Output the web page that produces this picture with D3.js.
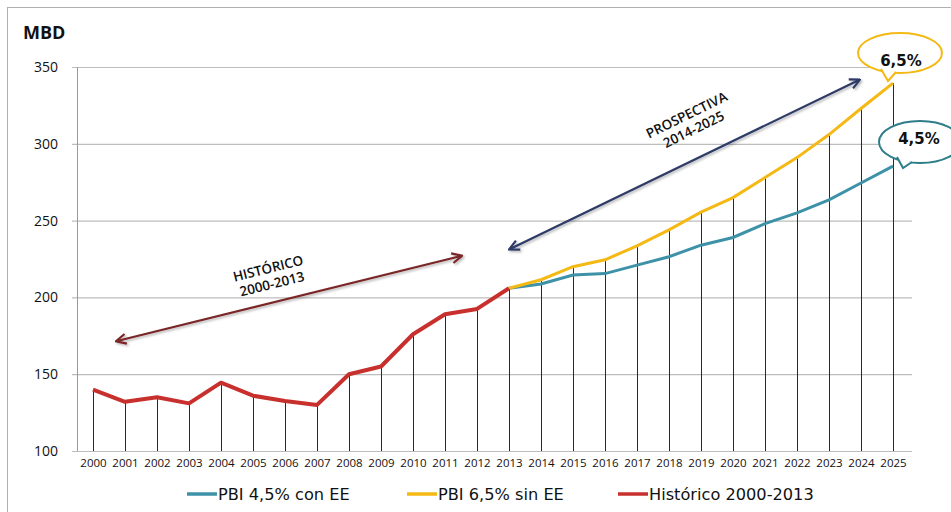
<!DOCTYPE html>
<html><head><meta charset="utf-8">
<script src="https://cdn.jsdelivr.net/npm/d3@7"></script>
<style>body{margin:0;background:#fff}svg{display:block;font-family:"Open Sans",sans-serif}</style>
</head><body>
<svg id="c" width="951" height="512"></svg>
<script>
const years = d3.range(2000, 2026).map(String);
const histYears = ["2000","2001","2002","2003","2004","2005","2006","2007","2008","2009","2010","2011","2012","2013"];
const histValues = [140,132,135,131,144.5,136,132.5,130,150,155,176,189,192.5,206];
const projYears = ["2013","2014","2015","2016","2017","2018","2019","2020","2021","2022","2023","2024","2025"];
const pbi45 = [206,208.7,214.6,215.5,221,226.5,234,239,248,255,263.5,274.5,285.5];
const pbi65 = [206,211.5,220,224.5,233.5,244,255.5,265,278,291,306,323,339.5];
const yTicks = [100,150,200,250,300,350];
const legendItems = [
  {label:"PBI 4,5% con EE", color:"#3d92a8"},
  {label:"PBI 6,5% sin EE", color:"#f4b914"},
  {label:"Histórico 2000-2013", color:"#c8302e"}
];

const svg = d3.select("#c");
const x = d3.scalePoint().domain(years).range([93, 893]);
const y = d3.scaleLinear().domain([100, 350]).range([451, 67]);

svg.append("defs").html(`
 <filter id="sh" x="-10%" y="-50%" width="120%" height="200%">
   <feDropShadow dx="1.5" dy="1.5" stdDeviation="1" flood-color="#000" flood-opacity="0.3"/>
 </filter>
 <marker id="mr" viewBox="0 0 12 12" refX="10" refY="6" markerWidth="12" markerHeight="12" markerUnits="userSpaceOnUse" orient="auto-start-reverse">
   <path d="M1,1 L11,6 L1,11" fill="none" stroke="#7a2628" stroke-width="2.2"/>
 </marker>
 <marker id="mb" viewBox="0 0 12 12" refX="10" refY="6" markerWidth="12" markerHeight="12" markerUnits="userSpaceOnUse" orient="auto-start-reverse">
   <path d="M1,1 L11,6 L1,11" fill="none" stroke="#2d3a66" stroke-width="2.2"/>
 </marker>`);

// frame
svg.append("rect").attr("x",7.5).attr("y",7.5).attr("width",1000).attr("height",600)
  .attr("fill","none").attr("stroke","#b0b0b0");

// grid
svg.append("g").selectAll("line").data(yTicks).join("line")
  .attr("x1",72).attr("x2",912).attr("y1",d=>y(d)+0.5).attr("y2",d=>y(d)+0.5)
  .attr("stroke","#bdbdbd").attr("stroke-width",1.2);
svg.append("line").attr("x1",77.5).attr("x2",77.5).attr("y1",y(350)).attr("y2",y(100))
  .attr("stroke","#9a9a9a");

// y axis labels
const yAxis = d3.axisLeft(y).tickValues(yTicks).tickSize(0).tickPadding(0);
const ga = svg.append("g").attr("transform","translate(58,0)").call(yAxis);
ga.select(".domain").remove();
ga.selectAll("text").attr("font-size",14).attr("font-family","Open Sans, sans-serif").attr("fill","#111");

// x axis labels
const xAxis = d3.axisBottom(x).tickSize(0).tickPadding(0);
const gx = svg.append("g").attr("transform","translate(0,459)").call(xAxis);
gx.select(".domain").remove();
gx.selectAll("text").attr("font-size",11.5).attr("font-family","Open Sans, sans-serif").attr("font-weight","500").attr("fill","#111");

// drop lines
const allPts = years.map(yr => {
  const hi = histYears.indexOf(yr);
  if (hi >= 0) return {yr, v: histValues[hi]};
  const pi = projYears.indexOf(yr);
  return {yr, v: Math.max(pbi45[pi], pbi65[pi])};
});
svg.append("g").selectAll("line").data(allPts).join("line")
  .attr("x1",d=>x(d.yr)+0.5).attr("x2",d=>x(d.yr)+0.5)
  .attr("y1",d=>y(d.v)).attr("y2",y(100))
  .attr("stroke","#2a2a2a").attr("stroke-width",1);

// lines
const line = d3.line().x(d=>x(d[0])).y(d=>y(d[1]));
svg.append("path").datum(projYears.map((d,i)=>[d,pbi45[i]])).attr("d",line)
  .attr("fill","none").attr("stroke","#3d92a8").attr("stroke-width",3);
svg.append("path").datum(projYears.map((d,i)=>[d,pbi65[i]])).attr("d",line)
  .attr("fill","none").attr("stroke","#f4b914").attr("stroke-width",3);
svg.append("path").datum(histYears.map((d,i)=>[d,histValues[i]])).attr("d",line)
  .attr("fill","none").attr("stroke","#c8302e").attr("stroke-width",4).attr("stroke-linejoin","round");

// MBD
svg.append("text").attr("x",23).attr("y",39).text("MBD")
  .attr("font-size",18).attr("font-weight","bold").attr("fill","#111");

// arrows
svg.append("line").attr("x1",117).attr("y1",341).attr("x2",461).attr("y2",256)
  .attr("stroke","#7a2628").attr("stroke-width",2.2)
  .attr("marker-start","url(#mr)").attr("marker-end","url(#mr)").attr("filter","url(#sh)");
svg.append("line").attr("x1",510).attr("y1",249).attr("x2",859).attr("y2",80)
  .attr("stroke","#2d3a66").attr("stroke-width",2.2)
  .attr("marker-start","url(#mb)").attr("marker-end","url(#mb)").attr("filter","url(#sh)");

function rotLabel(cx, cy, ang, lines) {
  const g = svg.append("g").attr("transform",`translate(${cx},${cy}) rotate(${ang})`);
  g.selectAll("text").data(lines).join("text")
    .attr("x",0).attr("y",(d,i)=>i===0?-3:13).attr("text-anchor","middle")
    .attr("font-size",13.5).attr("font-weight","600").attr("fill","#111").text(d=>d);
}
rotLabel(270, 276, -14, ["HISTÓRICO","2000-2013"]);
rotLabel(690, 122, -26, ["PROSPECTIVA","2014-2025"]);

// callouts
function callout(cx, cy, rx, ry, tail, color, txt, tx, ty) {
  const g = svg.append("g");
  g.append("ellipse").attr("cx",cx).attr("cy",cy).attr("rx",rx).attr("ry",ry)
    .attr("fill","#fff").attr("stroke",color).attr("stroke-width",2);
  g.append("path").attr("d",`M${tail[0][0]},${tail[0][1]} L${tail[1][0]},${tail[1][1]} L${tail[2][0]},${tail[2][1]}`)
    .attr("fill","#fff").attr("stroke",color).attr("stroke-width",2);
  g.append("text").attr("x",tx).attr("y",ty).attr("text-anchor","middle")
    .attr("font-size",15).attr("font-weight","bold").attr("font-family","DejaVu Sans, sans-serif")
    .attr("fill","#111").text(txt);
}
callout(900, 53, 42, 20, [[881,69],[888,81],[896,72]], "#f4b914", "6,5%", 901, 66);
callout(920, 142, 41, 21, [[897,157],[903,168],[912,162]], "#2f7d8a", "4,5%", 919, 144);

// legend
const lx = [187, 407, 618];
const lg = svg.append("g").selectAll("g").data(legendItems).join("g")
  .attr("transform",(d,i)=>`translate(${lx[i]},494)`);
lg.append("line").attr("x1",0).attr("x2",30).attr("y1",0).attr("y2",0)
  .attr("stroke",d=>d.color).attr("stroke-width",3.5);
lg.append("text").attr("x",31).attr("y",6).attr("font-size",16.2).attr("font-family","DejaVu Sans, sans-serif")
  .attr("fill","#111").text(d=>d.label);
</script>
</body></html>
